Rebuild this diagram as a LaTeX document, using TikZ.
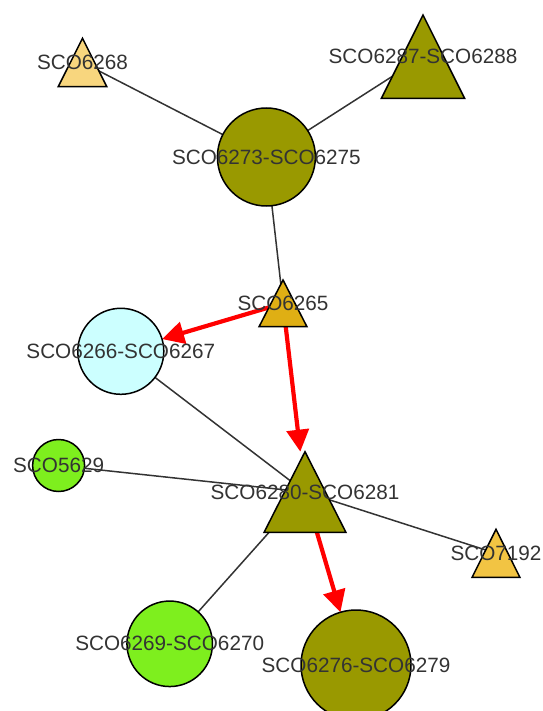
\documentclass[tikz,border=0pt]{standalone}
\usepackage{fontspec}
\setmainfont{Liberation Sans}
\usetikzlibrary{arrows.meta}

\definecolor{cOlive}{HTML}{999900}
\definecolor{cPeach}{HTML}{F8D67E}
\definecolor{cGold}{HTML}{DFAF14}
\definecolor{cAmber}{HTML}{F2C443}
\definecolor{cLime}{HTML}{7EEF1E}
\definecolor{cIce}{HTML}{CCFFFF}
\definecolor{cEdge}{HTML}{333333}
\definecolor{cText}{HTML}{333333}

\pgfdeclarelayer{edgelayer}
\pgfdeclarelayer{shapelayer}
\pgfsetlayers{edgelayer,shapelayer,main}

\tikzset{
  lbl/.style={text=cText, font=\fontsize{20.7}{24}\selectfont, inner sep=0pt},
  tribox/.style 2 args={rectangle, minimum width=#1, minimum height=#2,
    inner sep=0pt, outer sep=0pt},
  disc/.style 2 args={circle, draw=black, line width=1.5pt, fill=#2,
    minimum size=#1, inner sep=0pt, outer sep=0pt},
  trishape/.style={draw=black, line width=1.5pt, fill=#1},
  link/.style={draw=cEdge, line width=1.5pt},
  flow/.style={draw=red, line width=4.2pt, -{Triangle[length=22pt,width=22pt]}},
}

\begin{document}
\begin{tikzpicture}[x=1pt, y=-1pt]
\useasboundingbox (0,0) rectangle (542,711);
\clip (0,0) rectangle (542,711);

% triangle nodes: the box is the triangle's bounding box
\node[tribox={48.6pt}{48.4pt}, label={[lbl,name=t6268]center:SCO6268}] (n6268) at (82.5,62.5) {};
\node[tribox={83.2pt}{83.3pt}, label={[lbl,name=t6287]center:SCO6287-SCO6288}] (n6287) at (423,56.7) {};
\node[tribox={47.8pt}{46.7pt}, label={[lbl,name=t6265]center:SCO6265}] (n6265) at (283,303.3) {};
\node[tribox={81.8pt}{80.6pt}, label={[lbl,name=t6280]center:SCO6280-SCO6281}] (n6280) at (305,492) {};
\node[tribox={47.8pt}{48pt}, label={[lbl,name=t7192]center:SCO7192}] (n7192) at (496,553.3) {};

% circle nodes
\node[disc={98pt}{cOlive}, label={[lbl,name=t6273]center:SCO6273-SCO6275}] (n6273) at (266.4,157) {};
\node[disc={86pt}{cIce}, label={[lbl,name=t6266]center:SCO6266-SCO6267}] (n6266) at (120.8,351.3) {};
\node[disc={52pt}{cLime}, label={[lbl,name=t5629]center:SCO5629}] (n5629) at (58.6,465.5) {};
\node[disc={85.5pt}{cLime}, label={[lbl,name=t6269]center:SCO6269-SCO6270}] (n6269) at (169.7,643.8) {};
\node[disc={110pt}{cOlive}, label={[lbl,name=t6276]center:SCO6276-SCO6279}] (n6276) at (356,665) {};

% triangle outlines, under the labels
\begin{pgfonlayer}{shapelayer}
\foreach \n/\c in {n6268/cPeach, n6287/cOlive, n6265/cGold, n6280/cOlive, n7192/cAmber}
  \path[trishape=\c] (\n.north) -- (\n.south east) -- (\n.south west) -- cycle;
\end{pgfonlayer}

% connectors
\begin{pgfonlayer}{edgelayer}
\draw[link] (n6268.center) -- (n6273.center);
\draw[link] (n6287.center) -- (n6273.center);
\draw[link] (n6273.center) -- (n6265.center);
\draw[link] (n6266.center) -- (n6280.center);
\draw[link] (n5629.center) -- (n6280.center);
\draw[link] (n6280.center) -- (n7192.center);
\draw[link] (n6280.center) -- (n6269.center);
\draw[flow] (n6265.center) -- (n6266);
\draw[flow] (n6265.center) -- (n6280);
\draw[flow] (n6280.center) -- (n6276);
\end{pgfonlayer}
\end{tikzpicture}
\end{document}
